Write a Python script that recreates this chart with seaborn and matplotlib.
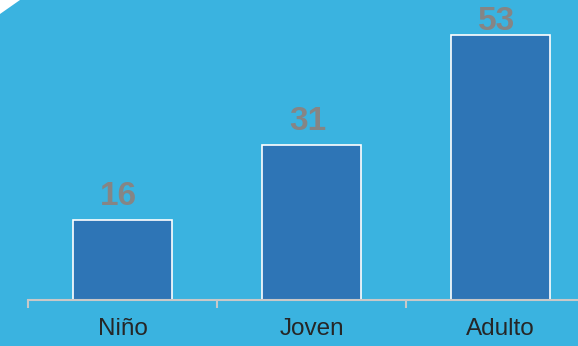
import matplotlib
matplotlib.use("Agg")
import matplotlib.pyplot as plt
import seaborn as sns
import pandas as pd
from matplotlib.patches import Polygon

categories = ["Niño", "Joven", "Adulto"]
values = [16, 31, 53]

bg = "#3AB3E0"
bar_color = "#2E75B6"

sns.set_style("white")
plt.rcParams["font.family"] = ["Liberation Sans", "DejaVu Sans"]

df = pd.DataFrame({"grupo": categories, "valor": values})

fig = plt.figure(figsize=(5.78, 3.46), dpi=100)
fig.patch.set_facecolor(bg)
# pequeño corte blanco en la esquina superior izquierda
fig.add_artist(Polygon([[0, 1], [0, 1 - 14 / 346], [20 / 578, 1]], closed=True,
                       transform=fig.transFigure, facecolor="white", edgecolor="none"))

ax = fig.add_axes([28 / 578, 46 / 346, 567 / 578, 300 / 346])
ax.set_facecolor(bg)
sns.barplot(data=df, x="grupo", y="valor", color=bar_color, width=0.525,
            edgecolor="white", linewidth=1.2, saturation=1, ax=ax)

# etiquetas encima de las barras (la más alta se baja para que quepa)
for i, v in enumerate(values):
    ax.text(i - 0.02, min(v + 3.0, 54.0), str(v), ha="center", va="baseline",
            fontsize=24, fontweight="bold", color="#858585")

ax.set_xlim(-0.5, 2.5)
ax.set_ylim(0, 60)
ax.set_xlabel("")
ax.set_ylabel("")
ax.set_yticks([])
for s in ["top", "right", "left"]:
    ax.spines[s].set_visible(False)
ax.spines["bottom"].set_color("#C8C8C8")
ax.spines["bottom"].set_linewidth(1.5)
ax.set_xticks([-0.5, 0.5, 1.5, 2.5], minor=True)
ax.tick_params(axis="x", which="minor", bottom=True, length=6, width=1.5,
               color="#C8C8C8", direction="out")
ax.tick_params(axis="x", which="major", bottom=True, length=0, pad=13,
               labelsize=17.5, labelcolor="#262626")

fig.savefig("out.png", dpi=100, facecolor=bg)
